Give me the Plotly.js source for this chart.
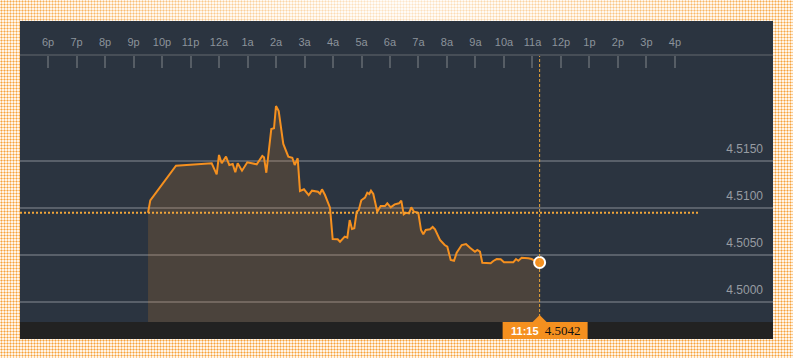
<!DOCTYPE html>
<html>
<head>
<meta charset="utf-8">
<script src="https://cdn.plot.ly/plotly-3.0.1.min.js"></script>
<style>
  html, body { margin:0; padding:0; }
  body {
    width:793px; height:358px; overflow:hidden;
    background-color:#fff4e6;
    background-image:
      radial-gradient(ellipse 55% 40% at 50% 0%, rgba(255,255,255,0.75), rgba(255,255,255,0) 100%),
      radial-gradient(circle, #f6a23a 0.9px, rgba(255,255,255,0) 1.1px);
    background-size: 100% 100%, 3px 3px;
  }
  #chart { width:793px; height:358px; }
</style>
</head>
<body>
<div id="chart"></div>
<script>
// Time axis in hours (18 = 6p of previous day, 24 = 12a, 35.25 = 11:15a)
const tickHours = [18,19,20,21,22,23,24,25,26,27,28,29,30,31,32,33,34,35,36,37,38,39,40];
const tickLabels = ['6p','7p','8p','9p','10p','11p','12a','1a','2a','3a','4a','5a','6a','7a','8a','9a','10a','11a','12p','1p','2p','3p','4p'];

const priceTicks = [4.5000, 4.5050, 4.5100, 4.5150];
const priceTickLabels = ['4.5000','4.5050','4.5100','4.5150'];

const times = [
  21.509,21.589,22.491,23.744,23.919,24.000,24.095,24.246,24.361,24.481,
  24.572,24.656,24.807,24.993,25.323,25.439,25.519,25.579,25.660,25.835,
  25.930,26.000,26.095,26.256,26.432,26.572,26.656,26.761,26.842,26.982,
  27.147,27.263,27.474,27.544,27.614,27.719,27.895,27.989,28.165,28.246,
  28.411,28.502,28.586,28.667,28.747,28.832,28.902,28.993,29.123,29.204,
  29.274,29.333,29.414,29.554,29.674,29.825,29.905,30.025,30.165,30.316,
  30.396,30.481,30.561,30.667,30.747,30.842,30.993,31.088,31.168,31.253,
  31.404,31.498,31.579,31.754,31.919,32.011,32.130,32.246,32.340,32.516,
  32.667,32.807,32.982,33.063,33.158,33.239,33.393,33.533,33.625,33.744,
  33.884,34.000,34.186,34.326,34.421,34.502,34.621,34.737,34.853,34.972,
  35.088,35.250
];
const prices = [
  4.50950,4.51082,4.51450,4.51476,4.51358,4.51564,4.51476,4.51546,4.51457,4.51468,
  4.51380,4.51476,4.51397,4.51486,4.51465,4.51511,4.51553,4.51539,4.51375,4.51840,
  4.51848,4.52085,4.52032,4.51681,4.51546,4.51535,4.51457,4.51529,4.51181,4.51199,
  4.51138,4.51184,4.51173,4.51152,4.51199,4.51138,4.51003,4.50670,4.50667,4.50641,
  4.50695,4.50684,4.50872,4.50777,4.50784,4.50961,4.50976,4.51082,4.51110,4.51163,
  4.51149,4.51184,4.51149,4.50961,4.51021,4.51021,4.51050,4.51007,4.51039,4.51050,
  4.51078,4.50933,4.50950,4.50944,4.51007,4.50961,4.50950,4.50766,4.50720,4.50766,
  4.50773,4.50798,4.50773,4.50660,4.50606,4.50588,4.50447,4.50439,4.50524,4.50606,
  4.50617,4.50578,4.50535,4.50553,4.50535,4.50418,4.50418,4.50412,4.50436,4.50457,
  4.50454,4.50422,4.50422,4.50422,4.50457,4.50439,4.50471,4.50471,4.50465,4.50457,
  4.50436,4.50420
];
const previousClose = 4.5095;
const lastTimeLabel = '11:15';
const lastPriceLabel = '4.5042';

const lastT = times[times.length-1];
const lastP = prices[prices.length-1];

const orange = '#f5901f';
const plotH = 266;

const traces = [
  {
    x: times, y: prices, type:'scatter', mode:'lines',
    line:{color:orange, width:2},
    fill:'tozeroy', fillcolor:'rgba(240,140,40,0.17)',
    hoverinfo:'skip'
  },
  {
    x:[lastT], y:[lastP], type:'scatter', mode:'markers',
    marker:{color:orange, size:11, line:{color:'#ffffff', width:2}},
    hoverinfo:'skip'
  }
];

const layout = {
  width:793, height:358,
  margin:{l:20, r:20, t:56, b:36, pad:0},
  paper_bgcolor:'rgba(0,0,0,0)',
  plot_bgcolor:'#2b3440',
  showlegend:false,
  font:{family:'Liberation Sans, Arial, sans-serif'},
  xaxis:{
    side:'top', range:[17.0175, 43.439],
    tickvals:tickHours, ticktext:tickLabels,
    ticks:'inside', ticklen:12, tickwidth:2, tickcolor:'#565d65',
    showline:true, linecolor:'#474e57', linewidth:2,
    showgrid:false, zeroline:false, automargin:false,
    tickfont:{size:11, color:'#8c939b'},
    ticklabelstandoff:4
  },
  yaxis:{
    side:'right', range:[4.497872, 4.526170],
    tickvals:priceTicks, ticktext:priceTickLabels,
    ticklabelposition:'inside', ticks:'',
    ticklabelshift:-12, ticklabelstandoff:7,
    showgrid:true, gridcolor:'rgba(255,255,255,0.22)', gridwidth:2,
    zeroline:false, showline:false, automargin:false,
    tickfont:{size:12, color:'#979ca2'}
  },
  shapes:[
    {type:'rect', xref:'paper', yref:'paper', x0:0, x1:1, y0:-17/plotH, y1:1+35/plotH,
     fillcolor:'#2b3440', line:{width:0}, layer:'below'},
    {type:'rect', xref:'paper', yref:'paper', x0:0, x1:1, y0:-17/plotH, y1:0,
     fillcolor:'#222222', line:{width:0}, layer:'above'},
    {type:'line', xref:'paper', yref:'y', x0:0, x1:(700-20)/753, y0:previousClose, y1:previousClose,
     line:{color:'#f0a53a', width:2, dash:'2px,2px'}, layer:'above'},
    {type:'line', xref:'x', yref:'paper', x0:lastT, x1:lastT, y0:0, y1:1,
     line:{color:'#e8a53a', width:1, dash:'3px,2px'}, layer:'above'},
    {type:'rect', xref:'x', xsizemode:'pixel', xanchor:lastT, x0:-37, x1:48,
     yref:'paper', y0:-17/plotH, y1:0, fillcolor:orange, line:{width:0}, layer:'above'},
    {type:'path', xref:'x', xsizemode:'pixel', xanchor:lastT,
     yref:'paper', ysizemode:'pixel', yanchor:0,
     path:'M -7 0 L 7 0 L 0 7 Z', fillcolor:orange, line:{width:0}, layer:'above'}
  ],
  annotations:[
    {xref:'x', yref:'paper', x:lastT, y:-8.5/plotH, xshift:5.5, showarrow:false,
     xanchor:'center', yanchor:'middle',
     text:'<b>'+lastTimeLabel+'</b>  <span style="color:#111111;font-family:\'Liberation Serif\',serif;font-size:13px">'+lastPriceLabel+'</span>',
     font:{size:11, color:'#ffffff', family:'Liberation Sans, Arial, sans-serif'}}
  ]
};

Plotly.newPlot('chart', traces, layout, {displayModeBar:false, staticPlot:true});
</script>
</body>
</html>
